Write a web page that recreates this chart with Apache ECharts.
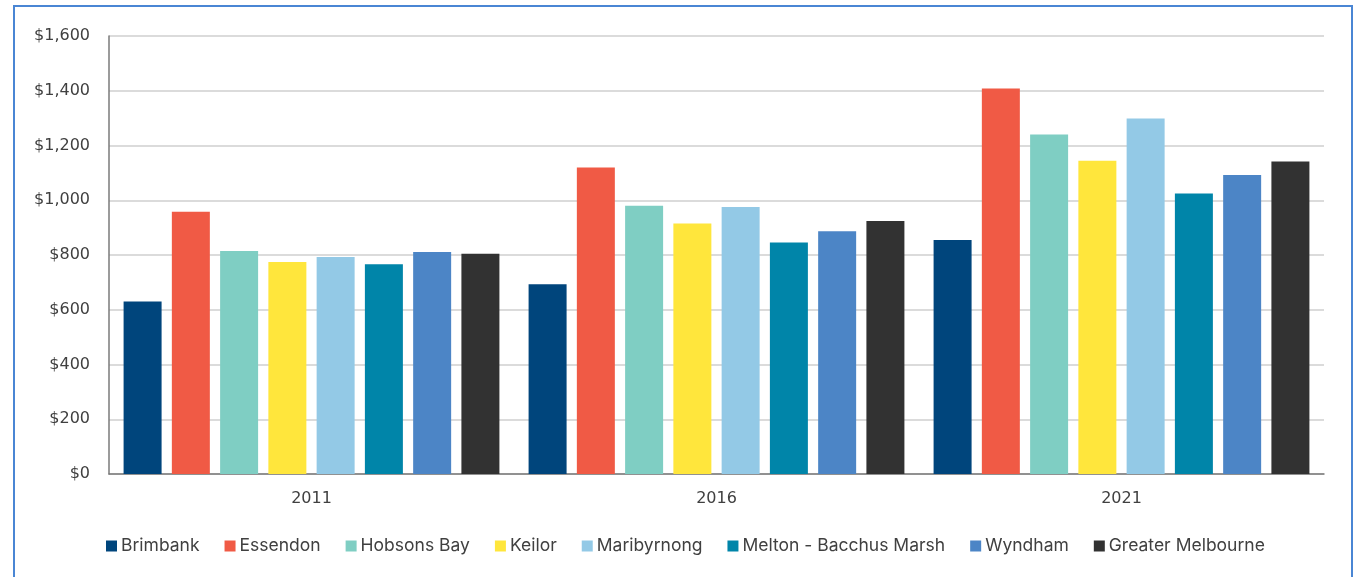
<!DOCTYPE html>
<html>
<head>
<meta charset="utf-8">
<script src="https://cdn.jsdelivr.net/npm/echarts@6/dist/echarts.min.js"></script>
<style>
  html, body { margin: 0; padding: 0; background: #fff; }
  #chart { width: 1362px; height: 577px; }
</style>
</head>
<body>
<div id="chart"></div>
<script>
// Census years
const years = ['2011', '2016', '2021'];

// Median weekly household income by area
const brimbank = [630, 693, 855];
const essendon = [958, 1120, 1408];
const hobsonsBay = [815, 980, 1240];
const keilor = [774, 915, 1144];
const maribyrnong = [793, 975, 1299];
const meltonBacchusMarsh = [766, 846, 1025];
const wyndham = [811, 887, 1092];
const greaterMelbourne = [805, 924, 1142];

const seriesDefs = [
  { name: 'Brimbank', data: brimbank, color: '#00457C' },
  { name: 'Essendon', data: essendon, color: '#F05A45' },
  { name: 'Hobsons Bay', data: hobsonsBay, color: '#7FCEC3' },
  { name: 'Keilor', data: keilor, color: '#FFE63C' },
  { name: 'Maribyrnong', data: maribyrnong, color: '#93C9E6' },
  { name: 'Melton - Bacchus Marsh', data: meltonBacchusMarsh, color: '#0085A9' },
  { name: 'Wyndham', data: wyndham, color: '#4C85C6' },
  { name: 'Greater Melbourne', data: greaterMelbourne, color: '#323232' }
];

const LEGEND_FONT = 'Inter, "Noto Sans", sans-serif';
const AXIS_FONT = '"DejaVu Sans", sans-serif';
const chart = echarts.init(document.getElementById('chart'), null, { renderer: 'canvas' });

chart.setOption({
  animation: false,
  backgroundColor: '#ffffff',
  graphic: [{
    type: 'rect',
    shape: { x: 14, y: 6, width: 1338, height: 620 },
    style: { fill: 'none', stroke: '#4A86D4', lineWidth: 2 },
    silent: true
  }],
  grid: { left: 109, right: 38, top: 36, bottom: 103 },
  legend: {
    bottom: 17,
    left: 101,
    itemWidth: 11,
    itemHeight: 11,
    itemGap: 25,
    icon: 'rect',
    textStyle: { fontFamily: LEGEND_FONT, fontSize: 17.5, color: '#404040', padding: [0, 0, 0, -1] },
    data: seriesDefs.map(s => s.name)
  },
  xAxis: {
    type: 'category',
    data: years,
    axisLine: { show: true, lineStyle: { color: '#7a7a7a', width: 1.5 } },
    axisTick: { show: false },
    axisLabel: { fontFamily: AXIS_FONT, fontSize: 16, color: '#404040', margin: 17 }
  },
  yAxis: {
    type: 'value',
    min: 0,
    max: 1600,
    interval: 200,
    axisLine: { show: true, lineStyle: { color: '#7a7a7a', width: 1.5 } },
    axisTick: { show: false },
    splitLine: { lineStyle: { color: '#cfcfcf', width: 1.5 } },
    axisLabel: {
      fontFamily: AXIS_FONT, fontSize: 16, color: '#404040', margin: 19,
      formatter: v => '$' + v.toLocaleString('en-US')
    }
  },
  series: seriesDefs.map(s => ({
    name: s.name,
    type: 'bar',
    data: s.data,
    barWidth: 38,
    barGap: '27%',
    itemStyle: { color: s.color },
    emphasis: { disabled: true }
  }))
});
</script>
</body>
</html>
